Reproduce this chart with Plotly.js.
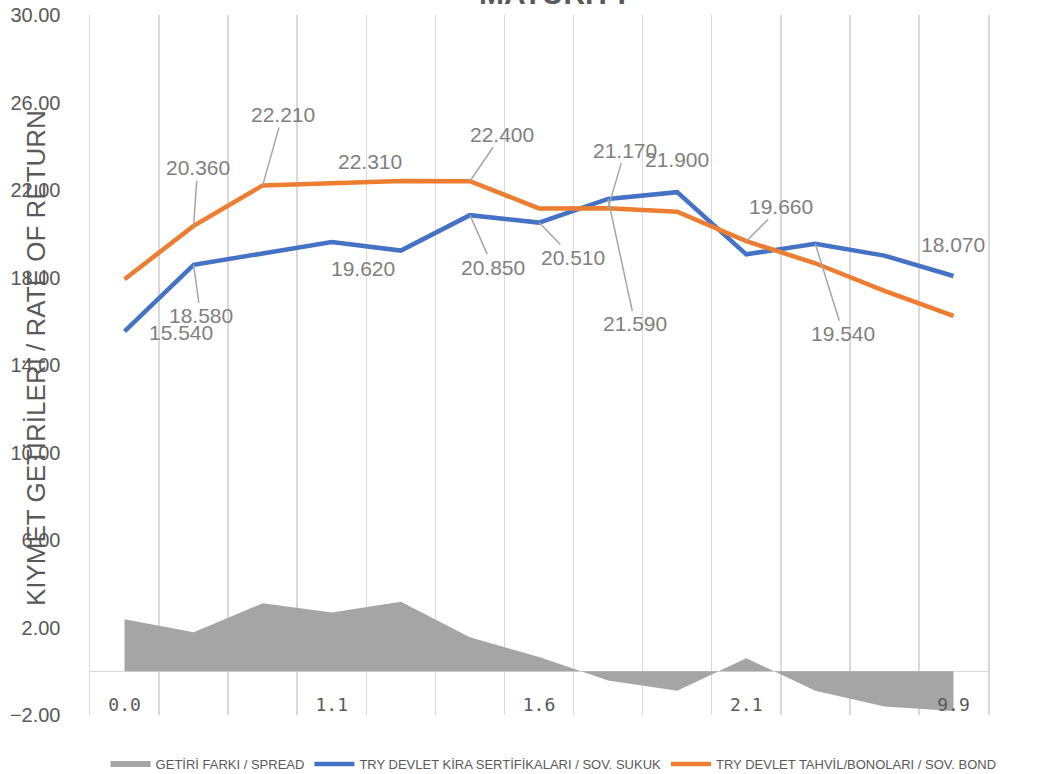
<!DOCTYPE html>
<html>
<head>
<meta charset="utf-8">
<script src="https://cdn.plot.ly/plotly-3.0.1.min.js"></script>
<style>
  html, body { margin: 0; padding: 0; background: #ffffff; }
  #chart { width: 1056px; height: 774px; }
</style>
</head>
<body>
<div id="chart"></div>
<script>
// ---- data ----
const tickLabels = ['0.0', '1.1', '1.6', '2.1', '9.9'];
const tickPositions = [0, 3, 6, 9, 12];

const sukukName = 'TRY DEVLET KİRA SERTİFİKALARI / SOV. SUKUK';
const bondName = 'TRY DEVLET TAHVİL/BONOLARI / SOV. BOND';
const spreadName = 'GETİRİ FARKI / SPREAD';

const sukuk = [15.54, 18.58, 19.10, 19.62, 19.23, 20.85, 20.51, 21.59, 21.90, 19.06, 19.54, 19.00, 18.07];
const bond = [17.92, 20.36, 22.21, 22.31, 22.41, 22.40, 21.16, 21.17, 21.01, 19.66, 18.65, 17.39, 16.25];
const spread = [2.38, 1.78, 3.11, 2.69, 3.18, 1.55, 0.65, -0.42, -0.89, 0.60, -0.89, -1.61, -1.82];

const yTickValues = [-2, 2, 6, 10, 14, 18, 22, 26, 30];

// which points carry a data label
const sukukLabelIdx = [0, 1, 3, 5, 6, 7, 8, 10, 12];
const bondLabelIdx = [1, 2, 3, 5, 7, 9];

// ---- label placement (style: pixel offsets of the label from its point, leader line shown?) ----
const sukukLabelOffsets = {
  0: [56, 1, false], 1: [7, 51, true], 3: [31, 26, false], 5: [23, 52, true],
  6: [34, 35, true], 7: [27, 125, true], 8: [0, -33, false], 10: [28, 90, true],
  12: [0, -31, false]
};
const bondLabelOffsets = {
  1: [4, -58, true], 2: [20, -71, true], 3: [38, -22, false],
  5: [32, -47, true], 7: [17, -58, true], 9: [35, -35, true]
};

const xIdx = sukuk.map((_, i) => i);
const gridPositions = [];
for (let i = 0; i <= sukuk.length; i++) gridPositions.push(i - 0.5);

const GREY_TEXT = '#595959';
const LABEL_GREY = '#7f7f7f';
const GRID = '#d9d9d9';

const traces = [
  {
    x: xIdx, y: spread, name: spreadName, type: 'scatter', mode: 'none',
    fill: 'tozeroy', fillcolor: '#a5a5a5', hoverinfo: 'skip'
  },
  {
    x: xIdx, y: sukuk, name: sukukName, type: 'scatter', mode: 'lines',
    line: { color: '#4472c4', width: 4.5 }, hoverinfo: 'skip'
  },
  {
    x: xIdx, y: bond, name: bondName, type: 'scatter', mode: 'lines',
    line: { color: '#ed7d31', width: 4.5 }, hoverinfo: 'skip'
  }
];

function makeLabel(series, i, off) {
  return {
    x: i, y: series[i], xref: 'x', yref: 'y',
    text: series[i].toFixed(3),
    font: { family: 'Liberation Sans, Arial, sans-serif', size: 21, color: LABEL_GREY },
    showarrow: true, ax: off[0], ay: off[1], axref: 'pixel', ayref: 'pixel',
    arrowhead: 0, arrowwidth: 1.5, standoff: 0, startstandoff: 0,
    arrowcolor: off[2] ? '#a6a6a6' : 'rgba(0,0,0,0)'
  };
}

const annotations = [];
sukukLabelIdx.forEach(i => annotations.push(makeLabel(sukuk, i, sukukLabelOffsets[i])));
bondLabelIdx.forEach(i => annotations.push(makeLabel(bond, i, bondLabelOffsets[i])));

annotations.push({
  text: 'KIYMET GETİRİLERİ / RATE OF RETURN',
  xref: 'paper', yref: 'paper', x: -0.06, y: 0.51,
  xanchor: 'center', yanchor: 'middle', textangle: -90, showarrow: false,
  font: { family: 'Liberation Sans, Arial, sans-serif', size: 26, color: GREY_TEXT }
});

annotations.push({
  text: '<b>MATURITY</b>',
  xref: 'paper', yref: 'paper', x: (555 - 90) / 898, y: 1.03,
  xanchor: 'center', yanchor: 'middle', showarrow: false,
  font: { family: 'Liberation Sans, Arial, sans-serif', size: 30, color: GREY_TEXT }
});

const layout = {
  width: 1056, height: 774,
  paper_bgcolor: '#ffffff', plot_bgcolor: '#ffffff',
  margin: { l: 90, r: 68, t: 15, b: 59 },
  showlegend: true,
  legend: {
    orientation: 'h', xref: 'container', yref: 'container',
    x: 0.1, xanchor: 'left', y: 10 / 774, yanchor: 'middle',
    font: { family: 'Liberation Sans, Arial, sans-serif', size: 13, color: GREY_TEXT },
    traceorder: 'normal', itemwidth: 40
  },
  xaxis: {
    range: [-0.5, 12.5],
    tickmode: 'array', tickvals: tickPositions, ticktext: tickLabels,
    showgrid: false, zeroline: false, showline: false, ticks: '',
    ticklabelstandoff: -23,
    tickfont: { family: 'DejaVu Sans Mono, monospace', size: 18, color: GREY_TEXT },
    minor: { tickmode: 'array', tickvals: gridPositions, showgrid: true, gridcolor: GRID, gridwidth: 1.5, ticks: '' },
    fixedrange: true
  },
  yaxis: {
    range: [-2, 30],
    tickmode: 'array', tickvals: yTickValues,
    tickformat: '.2f',
    showgrid: false, ticks: '',
    showline: true, mirror: true, linecolor: GRID, linewidth: 1.5,
    zeroline: true, zerolinecolor: GRID, zerolinewidth: 1.5,
    ticklabelstandoff: 24,
    tickfont: { family: 'Liberation Sans, Arial, sans-serif', size: 20, color: GREY_TEXT },
    fixedrange: true
  },
  annotations: annotations
};

Plotly.newPlot('chart', traces, layout, { displayModeBar: false, staticPlot: true });
</script>
</body>
</html>
